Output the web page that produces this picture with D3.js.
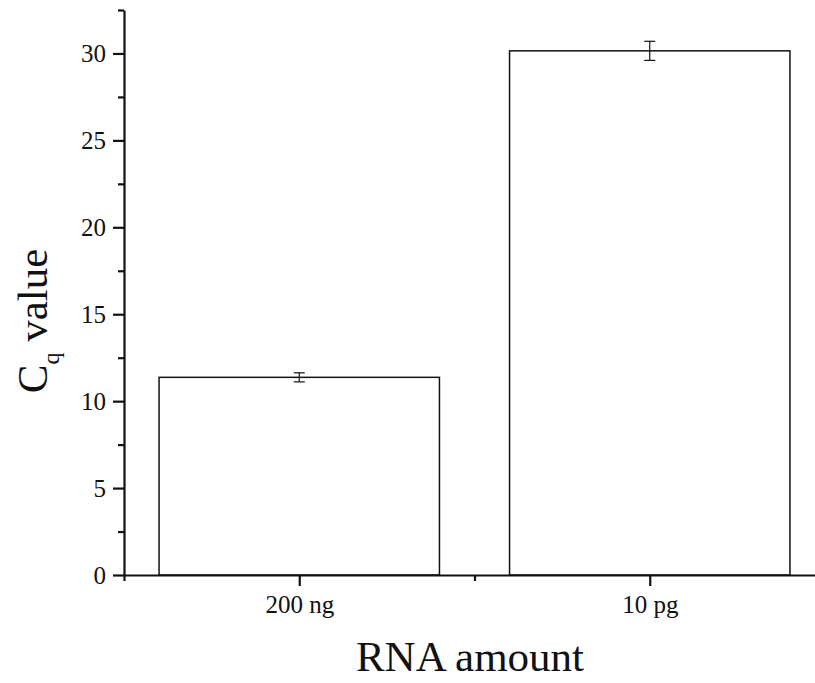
<!DOCTYPE html>
<html>
<head>
<meta charset="utf-8">
<script src="https://cdn.jsdelivr.net/npm/d3@7"></script>
<style>
    body { margin: 0; background: #fff; }
    svg { display: block; }
    .tick_label { font-family: "Liberation Serif", "Times New Roman", serif; font-size: 25px; fill: #111; }
    .axis_title { font-family: "Liberation Serif", "Times New Roman", serif; font-size: 43px; fill: #111; }
</style>
</head>
<body>
<svg id="cq_chart" width="815" height="683"></svg>
<script>
var categories = ["200 ng", "10 pg"]
var cqValues = [11.37, 30.15]
var cqErrors = [0.26, 0.55]
var yMajorTicks = [0, 5, 10, 15, 20, 25, 30]
var yMinorTicks = [2.5, 7.5, 12.5, 17.5, 22.5, 27.5, 32.5]
var xMinorTicks = [0.5, 1.5, 2.5]

function build_cq_chart() {
    var svg = d3.select("#cq_chart");
    const margins = {top: 10, left: 124, bottom: 575}

    // categories sit at 1, 2 on a linear scale, the axis runs past the right edge
    var xScale = d3.scaleLinear()
        .domain([0.5, 2.5])
        .range([margins.left, 825]);
    var yScale = d3.scaleLinear()
        .domain([0, 32.5])
        .range([margins.bottom, margins.top]);

    const barWidth = xScale(1.4) - xScale(0.6);

    var bars = svg.append("g").attr("id", "bars");
    bars.selectAll("rect")
        .data(cqValues).enter()
        .append("rect")
        .attr("x", (d, i) => xScale(i + 1) - barWidth / 2)
        .attr("y", d => yScale(d))
        .attr("width", barWidth)
        .attr("height", d => yScale(0) - yScale(d))
        .attr("fill", "white")
        .attr("stroke", "#111")
        .attr("stroke-width", 1.5);

    var errors = svg.append("g").attr("id", "errors")
        .attr("stroke", "#111").attr("stroke-width", 1.2);
    cqValues.forEach(function(value, i) {
        const cx = xScale(i + 1);
        const top = yScale(value + cqErrors[i]);
        const bottom = yScale(value - cqErrors[i]);
        errors.append("line").attr("x1", cx).attr("x2", cx).attr("y1", top).attr("y2", bottom);
        errors.append("line").attr("x1", cx - 5.5).attr("x2", cx + 5.5).attr("y1", top).attr("y2", top);
        errors.append("line").attr("x1", cx - 5.5).attr("x2", cx + 5.5).attr("y1", bottom).attr("y2", bottom);
    });

    // y axis: major ticks with labels, minor ticks without
    var yAxis = svg.append("g").attr("transform", "translate(" + margins.left + ",0)");
    yAxis.call(d3.axisLeft(yScale).tickValues(yMajorTicks).tickSize(11).tickSizeOuter(0).tickPadding(7));
    yAxis.append("g").call(d3.axisLeft(yScale).tickValues(yMinorTicks).tickSize(6).tickSizeOuter(0).tickFormat(""))
        .select(".domain").remove();

    var xAxis = svg.append("g").attr("transform", "translate(0," + margins.bottom + ")");
    xAxis.call(d3.axisBottom(xScale).tickValues([1, 2]).tickSize(11).tickSizeOuter(0).tickPadding(9)
        .tickFormat(d => categories[d - 1]));
    xAxis.append("g").call(d3.axisBottom(xScale).tickValues(xMinorTicks).tickSize(6).tickSizeOuter(0).tickFormat(""))
        .select(".domain").remove();

    svg.selectAll(".domain").attr("stroke", "#111").attr("stroke-width", 2.2);
    svg.selectAll(".tick line").attr("stroke", "#111").attr("stroke-width", 2.2);
    svg.selectAll(".tick text").attr("class", "tick_label").attr("font-family", null).attr("font-size", null);

    svg.append("text")
        .attr("class", "axis_title")
        .attr("x", 470)
        .attr("y", 671)
        .attr("text-anchor", "middle")
        .text("RNA amount");

    var yTitle = svg.append("text")
        .attr("class", "axis_title")
        .attr("transform", "translate(47,321) rotate(-90)")
        .attr("text-anchor", "middle");
    yTitle.append("tspan").text("C");
    yTitle.append("tspan").attr("font-size", "24px").attr("dy", 12).text("q");
    yTitle.append("tspan").attr("dy", -12).text(" value");
}

build_cq_chart();
</script>
</body>
</html>
